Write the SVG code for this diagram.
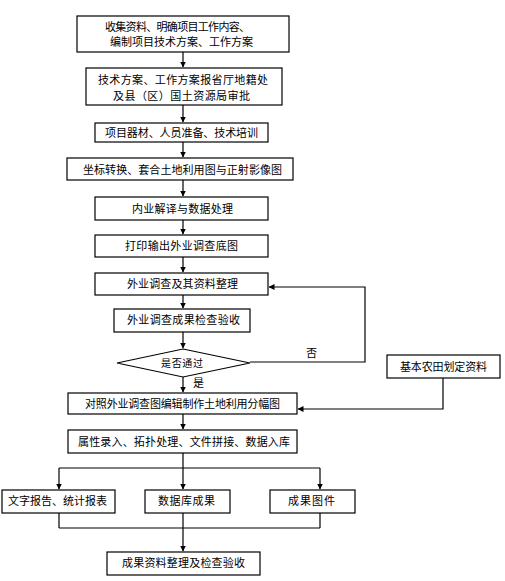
<svg xmlns="http://www.w3.org/2000/svg" width="505" height="581" viewBox="0 0 505 581">
<style>
.b{fill:#fff;stroke:#000;stroke-width:1.2}
.c{fill:none;stroke:#000;stroke-width:1.2}
text{font-family:"Noto Sans CJK SC","Liberation Sans",sans-serif;font-size:11px;fill:#000}
</style>
<defs>
<marker id="a" markerWidth="6" markerHeight="7" refX="5.5" refY="3.5" orient="auto" markerUnits="userSpaceOnUse">
<path d="M0,0.5 L6,3.5 L0,6.5 Z" fill="#000"/>
</marker>
</defs>
<rect width="505" height="581" fill="#fff"/>
<g id="connectors">
<path class="c" d="M183,52 V67" marker-end="url(#a)"/>
<path class="c" d="M183,105 V122" marker-end="url(#a)"/>
<path class="c" d="M183,142 V157" marker-end="url(#a)"/>
<path class="c" d="M183,180 V196" marker-end="url(#a)"/>
<path class="c" d="M183,220 V234" marker-end="url(#a)"/>
<path class="c" d="M183,257 V272" marker-end="url(#a)"/>
<path class="c" d="M183,295 V308" marker-end="url(#a)"/>
<path class="c" d="M183,332 V348" marker-end="url(#a)"/>
<path class="c" d="M183,377 V392" marker-end="url(#a)"/>
<path class="c" d="M183,414 V429" marker-end="url(#a)"/>
<path class="c" d="M250,362 H365 V287 H269" marker-end="url(#a)"/>
<path class="c" d="M443,378 V409 H298" marker-end="url(#a)"/>
<path class="c" d="M183,453 V468 M59,468 H320"/>
<path class="c" d="M59,468 V489" marker-end="url(#a)"/>
<path class="c" d="M183,468 V489" marker-end="url(#a)"/>
<path class="c" d="M320,468 V489" marker-end="url(#a)"/>
<path class="c" d="M59,513 V528 M183,513 V528 M320,513 V528 M59,528 H320"/>
<path class="c" d="M183,528 V551" marker-end="url(#a)"/>
<text x="306" y="357">否</text>
<text x="193" y="387">是</text>
</g>
<g id="n1"><rect class="b" x="77" y="16" width="212" height="36"/>
<text x="105" y="31" textLength="145" lengthAdjust="spacing">收集资料、明确项目工作内容、</text>
<text x="110" y="46" textLength="143" lengthAdjust="spacing">编制项目技术方案、工作方案</text></g>
<g id="n2"><rect class="b" x="86" y="68" width="196" height="37"/>
<text x="98" y="84" textLength="170" lengthAdjust="spacing">技术方案、工作方案报省厅地籍处</text>
<text x="113" y="100" textLength="137" lengthAdjust="spacing">及县（区）国土资源局审批</text></g>
<g id="n3"><rect class="b" x="95" y="123" width="173" height="19"/>
<text x="105" y="137" textLength="153" lengthAdjust="spacing">项目器材、人员准备、技术培训</text></g>
<g id="n4"><rect class="b" x="67" y="158" width="226" height="22"/>
<text x="83" y="174" textLength="199" lengthAdjust="spacing">坐标转换、套合土地利用图与正射影像图</text></g>
<g id="n5"><rect class="b" x="95" y="197" width="173" height="23"/>
<text x="132" y="213" textLength="101" lengthAdjust="spacing">内业解译与数据处理</text></g>
<g id="n6"><rect class="b" x="95" y="235" width="173" height="22"/>
<text x="125" y="250" textLength="113" lengthAdjust="spacing">打印输出外业调查底图</text></g>
<g id="n7"><rect class="b" x="95" y="273" width="173" height="22"/>
<text x="127" y="288" textLength="111" lengthAdjust="spacing">外业调查及其资料整理</text></g>
<g id="n8"><rect class="b" x="114" y="309" width="136" height="23"/>
<text x="127" y="324" textLength="113" lengthAdjust="spacing">外业调查成果检查验收</text></g>
<g id="n9"><polygon class="b" points="183,349 250,363 183,377 117,363"/>
<text x="161" y="367" style="font-size:10px" textLength="42" lengthAdjust="spacing">是否通过</text></g>
<g id="n10"><rect class="b" x="387" y="355" width="113" height="23"/>
<text x="400" y="371" textLength="87" lengthAdjust="spacing">基本农田划定资料</text></g>
<g id="n11"><rect class="b" x="68" y="393" width="229" height="21"/>
<text x="85" y="408" textLength="195" lengthAdjust="spacing">对照外业调查图编辑制作土地利用分幅图</text></g>
<g id="n12"><rect class="b" x="68" y="430" width="229" height="23"/>
<text x="78" y="446" textLength="212" lengthAdjust="spacing">属性录入、拓扑处理、文件拼接、数据入库</text></g>
<g id="n13"><rect class="b" x="2" y="490" width="113" height="23"/>
<text x="8" y="505" textLength="99" lengthAdjust="spacing">文字报告、统计报表</text></g>
<g id="n14"><rect class="b" x="145" y="490" width="85" height="23"/>
<text x="158" y="505" textLength="57" lengthAdjust="spacing">数据库成果</text></g>
<g id="n15"><rect class="b" x="270" y="490" width="85" height="23"/>
<text x="288" y="505" textLength="47" lengthAdjust="spacing">成果图件</text></g>
<g id="n16"><rect class="b" x="107" y="552" width="153" height="23"/>
<text x="122" y="567" textLength="123" lengthAdjust="spacing">成果资料整理及检查验收</text></g>
</svg>
